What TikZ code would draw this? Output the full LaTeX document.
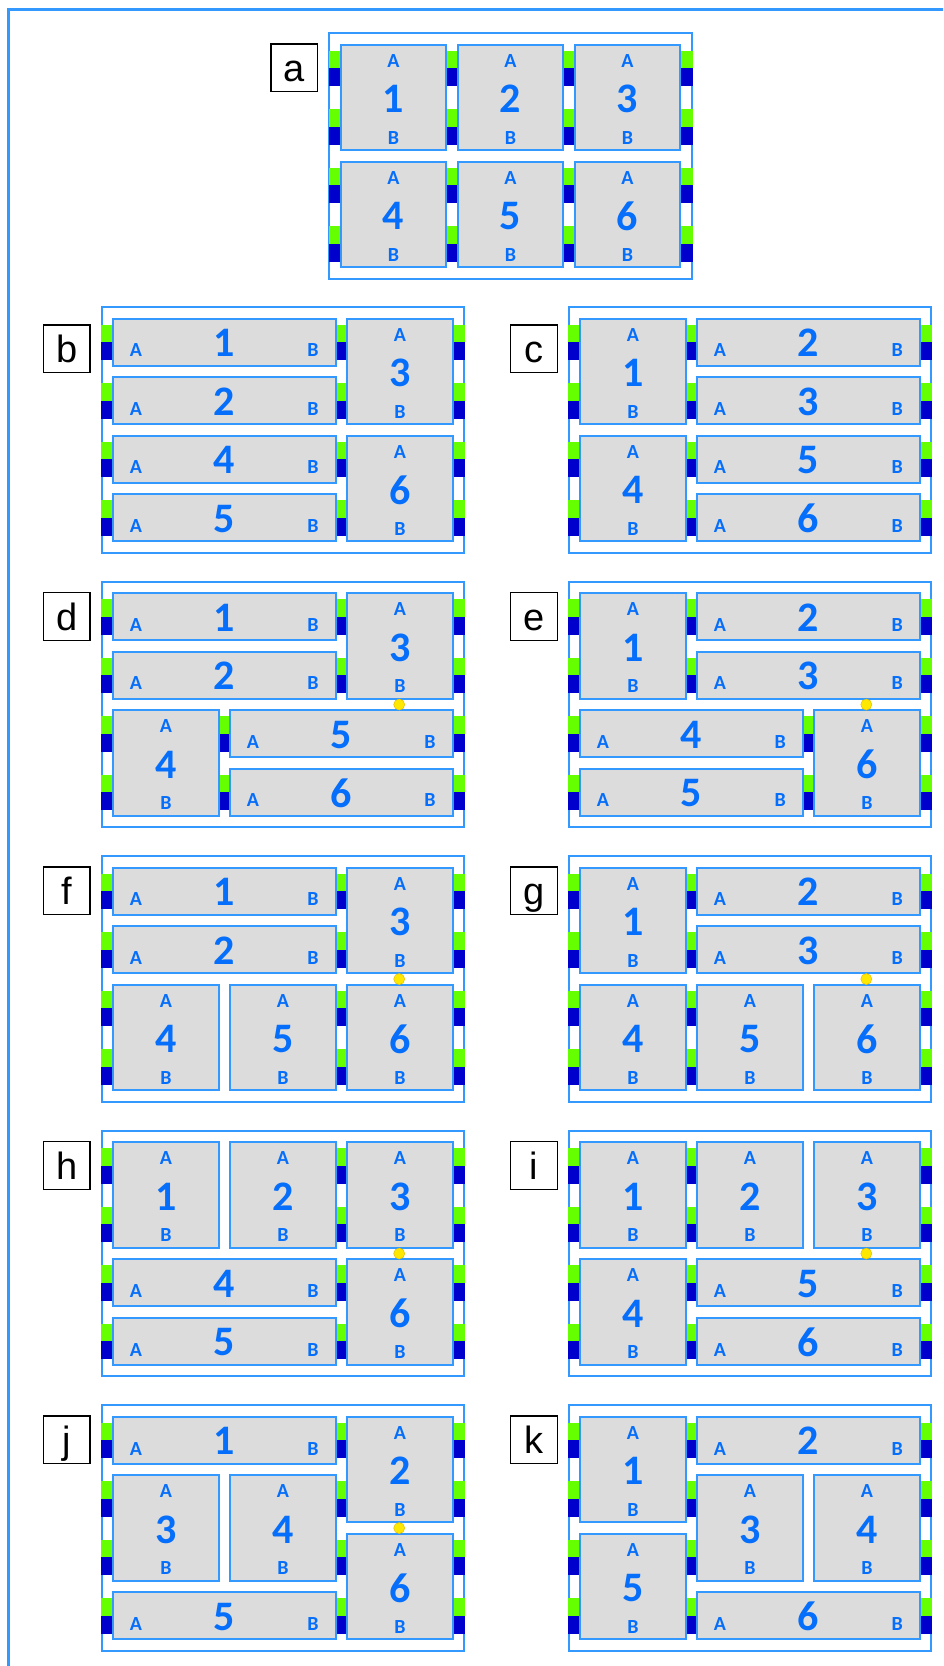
\documentclass[tikz,border=0pt]{standalone}
\usepackage{fontspec}
\setmainfont{Carlito}
\newfontfamily\arialf{Liberation Sans}
\definecolor{cellblue}{RGB}{51,153,255}
\definecolor{cellgray}{RGB}{220,220,220}
\definecolor{txtblue}{RGB}{5,110,250}
\definecolor{cgreen}{RGB}{102,255,0}
\definecolor{cblue}{RGB}{0,0,204}
\definecolor{dotyellow}{RGB}{255,232,0}
\definecolor{dotedge}{RGB}{225,190,0}
\tikzset{
  cellbox/.style={draw=cellblue, fill=cellgray, line width=1.7pt, inner sep=0pt, outer sep=0pt},
  numf/.style={text=txtblue, font=\fontsize{42}{42}\selectfont\bfseries, inner sep=0pt},
  abf/.style={text=txtblue, font=\fontsize{20}{20}\selectfont\bfseries, inner sep=0pt},
  lblbox/.style={draw=black, line width=1.3pt, fill=white, minimum width=46.7pt, minimum height=47.7pt, inner sep=0pt, text height=27.5pt, text depth=0pt, font=\arialf\fontsize{38}{38}\selectfont},
  kitframe/.style={draw=cellblue, line width=1.7pt},
  ydot/.style={circle, fill=dotyellow, draw=dotedge, line width=0.5pt, minimum size=11pt, inner sep=0pt},
}
% kit: name, X, Y, label offset
\newcommand\kit[4]{%
  \def\KX{#2}\def\KY{#3}%
  \draw[kitframe] (\KX,\KY) rectangle (\KX+362.5,\KY+245.5);
  \node[lblbox, anchor=north east] (lbl#1) at (\KX-11,\KY+#4) {#1};
}
\newcommand\onebar[2]{%
  \pgfmathsetmacro\bx{\KX+#1*117}%
  \pgfmathsetmacro\by{\KY+11.5+#2*58.5}%
  \fill[cgreen] (\bx-0.8,\by+6) rectangle (\bx+12.3,\by+23.2);
  \fill[cblue] (\bx-0.8,\by+23.2) rectangle (\bx+12.3,\by+41.5);
}
\newcommand\barset[2]{\foreach \k in {#1}{\foreach \r in {#2}{\onebar{\k}{\r}}}}
% square cell: kit, number, col, halfrow
\newcommand\sqc[4]{%
  \pgfmathsetmacro\cx{\KX+11.5+#3*117+52.75}%
  \pgfmathsetmacro\cy{\KY+11.5+#4*58.5+52.75}%
  \node[cellbox, minimum width=105.5pt, minimum height=105.5pt] (#1#2) at (\cx,\cy) {};
  \node[numf] (#1#2n) at ([yshift=-1.5pt]#1#2.center) {#2};
  \node[abf] (#1#2A) at ([yshift=-16pt]#1#2.north) {A};
  \node[abf] (#1#2B) at ([yshift=12.6pt]#1#2.south) {B};
}
% long cell: kit, number, col, halfrow
\newcommand\lgc[4]{%
  \pgfmathsetmacro\cx{\KX+11.5+#3*117+111.25}%
  \pgfmathsetmacro\cy{\KY+11.5+#4*58.5+23.5}%
  \node[cellbox, minimum width=222.5pt, minimum height=47pt] (#1#2) at (\cx,\cy) {};
  \node[numf] (#1#2n) at ([yshift=-0.8pt]#1#2.center) {#2};
  \node[abf] (#1#2A) at ([xshift=22.7pt,yshift=-8.2pt]#1#2.west) {A};
  \node[abf] (#1#2B) at ([xshift=-22.7pt,yshift=-8.2pt]#1#2.east) {B};
}
\newcommand\kdot[1]{%
  \node[ydot] (dot#1) at (\KX+297.5,\KY+122.75) {};
}
\begin{document}
\begin{tikzpicture}[x=1pt,y=-1pt]
\useasboundingbox (0,0) rectangle (943,1666);
\fill[white] (0,0) rectangle (943,1666);
\clip (0,0) rectangle (943,1666);
\draw[cellblue, line width=3pt] (8.5,9.5) rectangle (980,1700);

% a
\kit{a}{329.3}{33.3}{10}
\barset{0,1,2,3}{0,1,2,3}
\sqc{a}{1}{0}{0}\sqc{a}{2}{1}{0}\sqc{a}{3}{2}{0}
\sqc{a}{4}{0}{2}\sqc{a}{5}{1}{2}\sqc{a}{6}{2}{2}

% b
\kit{b}{101.7}{307.3}{17}
\barset{0,2,3}{0,1,2,3}
\lgc{b}{1}{0}{0}\lgc{b}{2}{0}{1}\sqc{b}{3}{2}{0}
\lgc{b}{4}{0}{2}\lgc{b}{5}{0}{3}\sqc{b}{6}{2}{2}

% c
\kit{c}{568.8}{307.3}{17}
\barset{0,1,3}{0,1,2,3}
\sqc{c}{1}{0}{0}\lgc{c}{2}{1}{0}\lgc{c}{3}{1}{1}
\sqc{c}{4}{0}{2}\lgc{c}{5}{1}{2}\lgc{c}{6}{1}{3}

% d
\kit{d}{101.7}{581.8}{10}
\barset{0,2,3}{0,1}
\barset{0,1,3}{2,3}
\lgc{d}{1}{0}{0}\lgc{d}{2}{0}{1}\sqc{d}{3}{2}{0}
\sqc{d}{4}{0}{2}\lgc{d}{5}{1}{2}\lgc{d}{6}{1}{3}
\kdot{d}

% e
\kit{e}{568.8}{581.8}{10}
\barset{0,1,3}{0,1}
\barset{0,2,3}{2,3}
\sqc{e}{1}{0}{0}\lgc{e}{2}{1}{0}\lgc{e}{3}{1}{1}
\lgc{e}{4}{0}{2}\lgc{e}{5}{0}{3}\sqc{e}{6}{2}{2}
\kdot{e}

% f
\kit{f}{101.7}{856.3}{10}
\barset{0,2,3}{0,1,2,3}
\lgc{f}{1}{0}{0}\lgc{f}{2}{0}{1}\sqc{f}{3}{2}{0}
\sqc{f}{4}{0}{2}\sqc{f}{5}{1}{2}\sqc{f}{6}{2}{2}
\kdot{f}

% g
\kit{g}{568.8}{856.3}{10}
\barset{0,1,3}{0,1,2,3}
\sqc{g}{1}{0}{0}\lgc{g}{2}{1}{0}\lgc{g}{3}{1}{1}
\sqc{g}{4}{0}{2}\sqc{g}{5}{1}{2}\sqc{g}{6}{2}{2}
\kdot{g}

% h
\kit{h}{101.7}{1130.8}{10}
\barset{0,2,3}{0,1,2,3}
\sqc{h}{1}{0}{0}\sqc{h}{2}{1}{0}\sqc{h}{3}{2}{0}
\lgc{h}{4}{0}{2}\lgc{h}{5}{0}{3}\sqc{h}{6}{2}{2}
\kdot{h}

% i
\kit{i}{568.8}{1130.8}{10}
\barset{0,1,3}{0,1,2,3}
\sqc{i}{1}{0}{0}\sqc{i}{2}{1}{0}\sqc{i}{3}{2}{0}
\sqc{i}{4}{0}{2}\lgc{i}{5}{1}{2}\lgc{i}{6}{1}{3}
\kdot{i}

% j
\kit{j}{101.7}{1405.3}{10}
\barset{0,2,3}{0,1,2,3}
\lgc{j}{1}{0}{0}\sqc{j}{2}{2}{0}\sqc{j}{3}{0}{1}
\sqc{j}{4}{1}{1}\lgc{j}{5}{0}{3}\sqc{j}{6}{2}{2}
\kdot{j}

% k
\kit{k}{568.8}{1405.3}{10}
\barset{0,1,3}{0,1,2,3}
\sqc{k}{1}{0}{0}\lgc{k}{2}{1}{0}\sqc{k}{3}{1}{1}
\sqc{k}{4}{2}{1}\sqc{k}{5}{0}{2}\lgc{k}{6}{1}{3}
\end{tikzpicture}
\end{document}
